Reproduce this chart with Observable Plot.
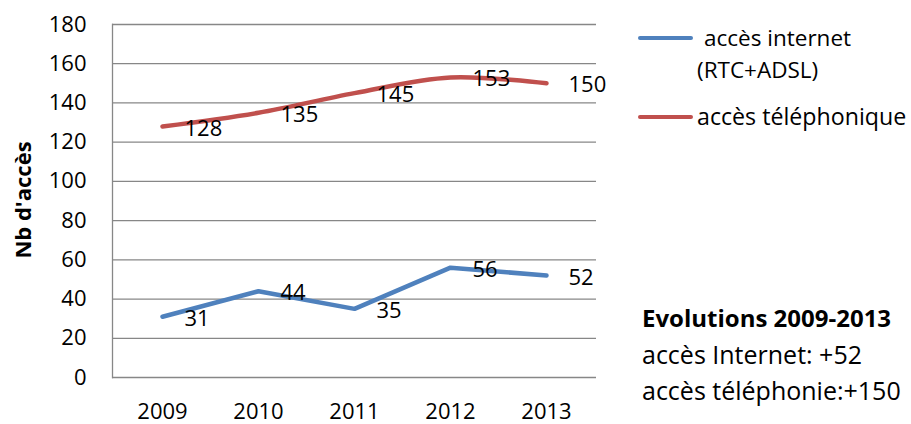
<!DOCTYPE html>
<html><head><meta charset="utf-8">
<script src="https://cdn.jsdelivr.net/npm/d3@7"></script>
<script src="https://cdn.jsdelivr.net/npm/@observablehq/plot@0.6"></script>
<style>
body{margin:0;background:#fff;font-family:"Open Sans",Lato,sans-serif;}
#wrap{position:relative;width:911px;height:424px;}
.t{position:absolute;font-size:22px;color:#000;white-space:nowrap;line-height:1;}
.sw{position:absolute;height:4px;width:55px;border-radius:2px;}
</style></head>
<body><div id="wrap"></div>
<script>
const years = ["2009","2010","2011","2012","2013"];
const internet = [31,44,35,56,52];
const telephone = [128,135,145,153,150];
const seriesNames = ["accès internet (RTC+ADSL)","accès téléphonique"];
const seriesColors = ["#4F81BD","#C0504D"];
const yTicks = [0,20,40,60,80,100,120,140,160,180];
const yTitle = "Nb d'accès";
const noteTitle = "Evolutions 2009-2013";
const noteLines = ["accès Internet: +52","accès téléphonie:+150"];

const rowsI = years.map((y,i)=>({year:y,value:internet[i]}));
const rowsT = years.map((y,i)=>({year:y,value:telephone[i]}));

const FONT = "'Open Sans', Lato, sans-serif";
const plot = Plot.plot({
  width:911, height:424,
  marginLeft:112, marginRight:315, marginTop:24, marginBottom:47,
  style:{fontFamily:FONT, fontSize:"22px", color:"#000", background:"#fff"},
  x:{type:"point", domain:years, padding:0.5},
  y:{domain:[0,180]},
  marks:[
    Plot.gridY(yTicks,{stroke:"#878787", strokeOpacity:1, strokeWidth:1.3}),
    Plot.frame({anchor:"left", stroke:"#878787", strokeWidth:1.3}),
    Plot.axisY(yTicks,{tickSize:0, tickPadding:26, label:null, fontSize:22}),
    Plot.axisX({tickSize:0, tickPadding:26, label:null, fontSize:22}),
    Plot.line(rowsI,{x:"year", y:"value", stroke:seriesColors[0], strokeWidth:4.5}),
    Plot.line(rowsT,{x:"year", y:"value", stroke:seriesColors[1], strokeWidth:4.5, curve:"catmull-rom"}),
    Plot.text(rowsI,{x:"year", y:"value", text:d=>String(d.value), textAnchor:"start", dx:22, dy:2, fontSize:22, fill:"#000"}),
    Plot.text(rowsT,{x:"year", y:"value", text:d=>String(d.value), textAnchor:"start", dx:22, dy:2, fontSize:22, fill:"#000"})
  ]
});
const wrap = document.getElementById("wrap");
wrap.appendChild(plot);
plot.style.position="absolute"; plot.style.left="0"; plot.style.top="0";

function addText(txt,x,yc,bold,size){
  const d=document.createElement("div");
  d.className="t"; d.textContent=txt;
  const s=size||22;
  d.style.fontSize=s+"px";
  d.style.left=x+"px"; d.style.top=(yc-s/2)+"px";
  if(bold) d.style.fontWeight="bold";
  wrap.appendChild(d);
  return d;
}
// y title
const yt=document.createElement("div");
yt.className="t"; yt.textContent=yTitle; yt.style.fontWeight="bold"; yt.style.fontSize="22px";
yt.style.left="22px"; yt.style.top="200px";
yt.style.transform="translate(-50%,-50%) rotate(-90deg)";
wrap.appendChild(yt);

// legend
function sw(color,x,y){const s=document.createElement("div");s.className="sw";s.style.background=color;s.style.left=x+"px";s.style.top=(y-2)+"px";wrap.appendChild(s);}
sw(seriesColors[0],638,38);
addText("accès internet",704,38,false,22.5);
addText("(RTC+ADSL)",697,70,false,22.5);
sw(seriesColors[1],638,117);
addText("accès téléphonique",697,117,false,23.2);

// note
addText(noteTitle,642,318,true,24);
addText(noteLines[0],642,354,false,25);
addText(noteLines[1],642,390,false,25);
</script></body></html>
